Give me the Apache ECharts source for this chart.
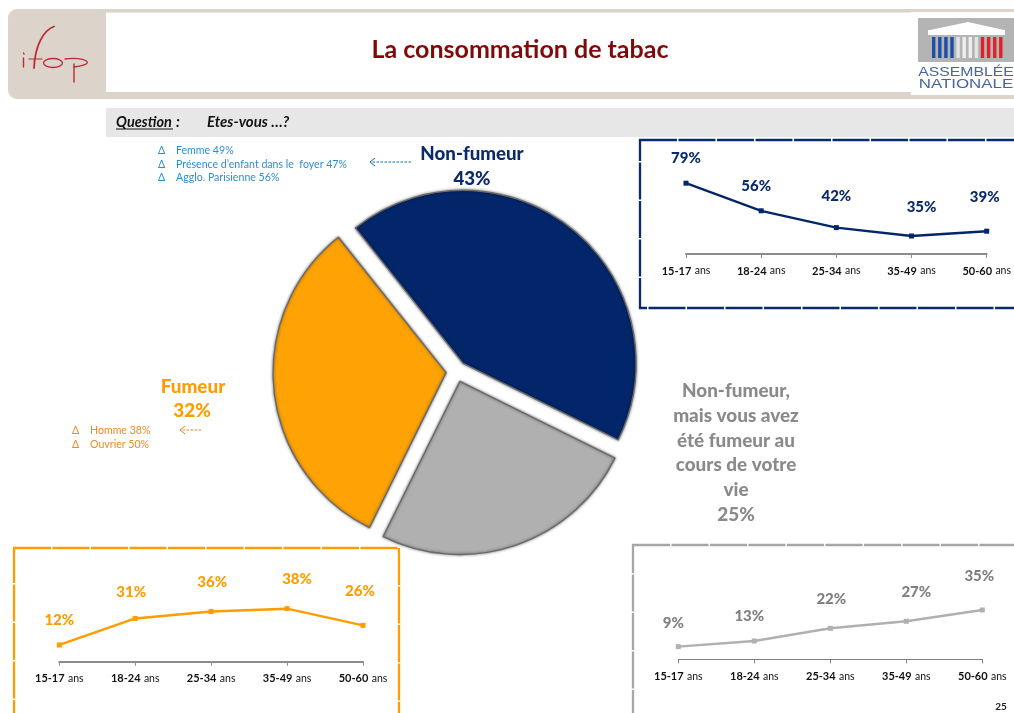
<!DOCTYPE html>
<html lang="fr">
<head>
<meta charset="utf-8">
<title>La consommation de tabac</title>
<script src="https://cdn.jsdelivr.net/npm/echarts@6/dist/echarts.min.js"></script>
<style>html,body{margin:0;padding:0;background:#fff;overflow:hidden}#c{width:1014px;height:713px}</style>
</head>
<body>
<div id="c"></div>
<script>
// ---- data ----
const pieNames = ['Non-fumeur', 'Non-fumeur, mais vous avez été fumeur au cours de votre vie', 'Fumeur'];
const pieValues = [43, 25, 32];
const ageGroups = ['15-17 ans', '18-24 ans', '25-34 ans', '35-49 ans', '50-60 ans'];
const nonSmokerByAge = [79, 56, 42, 35, 39];
const smokerByAge = [12, 31, 36, 38, 26];
const formerByAge = [9, 13, 22, 27, 35];
const blueNotes = ['Femme 49%', 'Présence d’enfant dans le  foyer 47%', 'Agglo. Parisienne 56%'];
const orangeNotes = ['Homme 38%', 'Ouvrier 50%'];
const formerHeading = ['Non-fumeur,', 'mais vous avez', 'été fumeur au', 'cours de votre', 'vie', '25%'];

// ---- layout of the value labels, relative to their points ----
const navyLabelOffsets = [[0,-25],[-5,-25],[0,-31],[10,-29],[-2,-34]];
const orangeLabelOffsets = [[0,-25],[-4,-26],[1,-29],[10,-29],[-3,-34]];
const greyLabelOffsets = [[-5,-23],[-5,-25],[1,-29],[10,-29],[-3,-34]];

const NAVY = '#03266a', ORANGE = '#ffa305', GREY = '#b0b0b0';
const FONT = 'Lato, "Open Sans", sans-serif';

function lineSeries(i, values, color, labelColor, offsets, width) {
  return {
    type: 'line', xAxisIndex: i, yAxisIndex: i, smooth: false, animation: false,
    symbol: 'rect', symbolSize: 5, showSymbol: true,
    lineStyle: { color, width }, itemStyle: { color },
    data: values.map((v, k) => ({
      value: v,
      label: { show: true, position: 'inside', offset: offsets[k], formatter: v + '%',
               color: labelColor, fontFamily: FONT, fontWeight: 900, fontSize: 15 }
    }))
  };
}
function xAxis(i, axisColor, axisWidth) {
  return {
    type: 'category', gridIndex: i, data: ageGroups, boundaryGap: false,
    axisLine: { show: true, lineStyle: { color: axisColor, width: axisWidth } },
    axisTick: { show: true, alignWithLabel: true, length: 4, lineStyle: { color: axisColor, width: 1 } },
    splitLine: { show: false },
    axisLabel: {
      interval: 0, margin: 11, hideOverlap: false,
      formatter: s => { const p = s.split(' '); return '{a|' + p[0] + '} {b|' + p[1] + '}'; },
      rich: { a: { fontFamily: FONT, fontWeight: 700, fontSize: 11, color: '#111' },
              b: { fontFamily: FONT, fontWeight: 400, fontSize: 10.5, color: '#111' } }
    }
  };
}
function yAxis(i, min, max) {
  return { type: 'value', gridIndex: i, min, max, show: false, splitLine: { show: false } };
}

// ---- decoration ----
const g = [];
const rect = (x, y, w, h, fill, r) => g.push({ type: 'rect', silent: true, z: 1, shape: { x, y, width: w, height: h, r: r || 0 }, style: { fill } });
const text = (x, y, t, font, fill, align, scaleX) => g.push({ type: 'text', silent: true, z: 5, x, y, scaleX: scaleX || 1, style: { text: t, font, fill, align: align || 'left', verticalAlign: 'middle' } });
const stroke = (el, color, lw) => { el.silent = true; el.z = 3; el.style = { stroke: color, lineWidth: lw, fill: 'none', lineCap: 'round' }; g.push(el); };

// banner
rect(8, 9, 1020, 90, '#dcd3ca', 9);
rect(106, 12.5, 908, 79.5, '#ffffff');
text(520, 50, 'La consommation de tabac', '700 25px ' + FONT, '#7f0a0a', 'center');

// ifop logo
const LOGO = '#bd2b36';
stroke({ type: 'line', shape: { x1: 23.5, y1: 58, x2: 23.5, y2: 67 } }, LOGO, 1.4);
stroke({ type: 'line', shape: { x1: 23.5, y1: 53, x2: 24, y2: 54 } }, LOGO, 1.4);
stroke({ type: 'bezierCurve', shape: { x1: 54, y1: 26.5, cpx1: 44, cpy1: 30, cpx2: 35, cpy2: 45, x2: 34, y2: 68 } }, LOGO, 1.8);
stroke({ type: 'line', shape: { x1: 29, y1: 59, x2: 42, y2: 59 } }, LOGO, 1.2);
stroke({ type: 'ellipse', shape: { cx: 53, cy: 63, rx: 9.5, ry: 4.5 } }, LOGO, 1.3);
stroke({ type: 'bezierCurve', shape: { x1: 65, y1: 59, cpx1: 83, cpy1: 56, cpx2: 100, cpy2: 64, x2: 74, y2: 67 } }, LOGO, 1.3);
stroke({ type: 'line', shape: { x1: 74, y1: 64, x2: 74, y2: 82 } }, LOGO, 1.4);

// Assemblée nationale logo
rect(911, 12, 103, 83, '#ffffff');
rect(918, 18, 96, 44, '#b4b4b4');
g.push({ type: 'polygon', silent: true, z: 2, shape: { points: [[930,30],[968,22],[1004,30]] }, style: { fill: '#ffffff' } });
rect(928, 30, 77, 5, '#ffffff');
['#1c4fa8','#1c4fa8','#1c4fa8','#1c4fa8','#e4e4e4','#eeeeee','#eeeeee','#e4e4e4','#e2202a','#e2202a','#e2202a','#e2202a'].forEach((c, i) => {
  g.push({ type: 'rect', silent: true, z: 2, shape: { x: 932 + i * 6.1, y: 37, width: 3.4, height: 21 }, style: { fill: c } });
});
text(966, 72, 'ASSEMBLÉE', '13.5px "Liberation Sans"', '#44659f', 'center', 1.17);
text(966, 84.5, 'NATIONALE', '13.5px "Liberation Sans"', '#44659f', 'center', 1.25);

// question bar
rect(106, 108, 908, 29, '#e7e7e7');
text(116, 122, 'Question', 'italic 700 14.5px ' + FONT, '#111');
g.push({ type: 'line', silent: true, z: 5, shape: { x1: 116, y1: 129, x2: 173, y2: 129 }, style: { stroke: '#111', lineWidth: 1 } });
text(176, 122, ':', 'italic 700 15px ' + FONT, '#111');
text(207, 122, 'Etes-vous …?', 'italic 700 15px ' + FONT, '#111');

// frames
const frame = (x, y, w, h, color) => g.push({ type: 'rect', silent: true, z: 2, shape: { x, y, width: w, height: h }, style: { fill: 'none', stroke: color, lineWidth: 2.3, lineDash: [37, 1.5] } });
frame(640, 140, 420, 168, '#0a2a6b');
frame(14, 548, 385, 210, '#ff9c00');
frame(633, 545, 420, 210, '#a6a6a6');

// side notes
blueNotes.forEach((t, i) => {
  const y = 151 + i * 13.5;
  text(158, y, 'Δ', '10.6px ' + FONT, '#2f8dd3');
  text(176, y, t, '10.6px ' + FONT, '#2f8dd3');
});
orangeNotes.forEach((t, i) => {
  const y = 431 + i * 14;
  text(72, y, 'Δ', '10.6px ' + FONT, '#f08a24');
  text(90, y, t, '10.6px ' + FONT, '#f08a24');
});
const arrow = (x1, x2, y, color) => {
  g.push({ type: 'line', silent: true, z: 3, shape: { x1, y1: y, x2, y2: y }, style: { stroke: color, lineWidth: 1, lineDash: [2.5, 1.5] } });
  g.push({ type: 'polyline', silent: true, z: 3, shape: { points: [[x2 + 5, y - 4], [x2, y], [x2 + 5, y + 4]] }, style: { stroke: color, lineWidth: 1, fill: 'none' } });
};
arrow(411, 370, 162, '#0070c0');
arrow(201, 180, 430, '#f07d1a');

// headings
text(472, 154, 'Non-fumeur', '900 18.7px ' + FONT, '#0b2a6b', 'center');
text(472, 179, '43%', '900 18.7px ' + FONT, '#0b2a6b', 'center');
text(193, 387, 'Fumeur', '900 18.9px ' + FONT, '#ff9c00', 'center');
text(192, 411, '32%', '900 18.9px ' + FONT, '#ff9c00', 'center');
formerHeading.forEach((t, i) => text(736, 391 + i * 24.8, t, '900 18.9px ' + FONT, '#8a8a8a', 'center'));
text(1001, 707, '25', '700 10px ' + FONT, '#222', 'center');

// slice fill with a slightly darker rim, centred on each exploded slice
const R = 173, CX = 456.5, CY = 371.5, OFFSET = 10.5;
const pieColors = [NAVY, '#b0b0b0', ORANGE];
const rimColors = ['#1b3f8a', '#858585', '#dd8d00'];
const midAngles = [128.5 - 77.4, 128.5 - 154.8 - 45, 128.5 - 154.8 - 90 - 57.6];
const fill = i => {
  const a = midAngles[i] * Math.PI / 180;
  return {
    type: 'radial', global: true,
    x: CX + OFFSET * Math.cos(a), y: CY - OFFSET * Math.sin(a), r: R,
    colorStops: [{ offset: 0, color: pieColors[i] }, { offset: 0.983, color: pieColors[i] }, { offset: 0.99, color: rimColors[i] }, { offset: 1, color: rimColors[i] }]
  };
};

const option = {
  animation: false,
  backgroundColor: '#ffffff',
  graphic: { elements: g },
  grid: [
    { left: 686, width: 303.3, top: 170, height: 84 },
    { left: 59.3, width: 303.7, top: 577.9, height: 83.8 },
    { left: 678.3, width: 304, top: 574.8, height: 84.5 }
  ],
  xAxis: [xAxis(0, '#8c8c8c', 2), xAxis(1, '#8c8c8c', 2), xAxis(2, '#7f7f7f', 1)],
  yAxis: [yAxis(0, 20, 90), yAxis(1, 0, 60), yAxis(2, 0, 60)],
  series: [
    {
      type: 'pie', animation: false, silent: true, z: 4,
      center: [CX, CY], radius: [0, R], startAngle: 128.5, clockwise: true,
      selectedMode: 'multiple', selectedOffset: OFFSET,
      label: { show: false }, labelLine: { show: false },
      itemStyle: { borderColor: '#6a6a6a', borderWidth: 1.4, shadowBlur: 3, shadowColor: 'rgba(0,0,0,0.5)' },
      data: pieValues.map((v, i) => ({ name: pieNames[i], value: v, selected: true, itemStyle: { color: fill(i) } }))
    },
    lineSeries(0, nonSmokerByAge, NAVY, '#0b2a6b', navyLabelOffsets, 2.4),
    lineSeries(1, smokerByAge, '#ff9c00', '#ff9c00', orangeLabelOffsets, 2.5),
    lineSeries(2, formerByAge, GREY, '#808080', greyLabelOffsets, 2.5)
  ]
};
echarts.init(document.getElementById('c'), null, { renderer: 'canvas' }).setOption(option);
</script>
</body>
</html>
